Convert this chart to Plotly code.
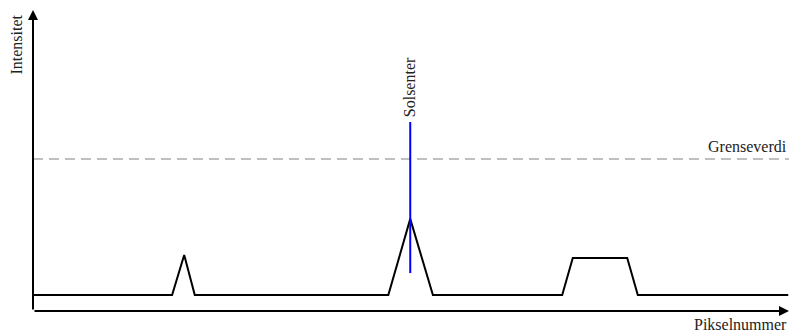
import plotly.graph_objects as go

# Signal (pixel number vs intensity)
pixel = [0, 18.4, 20.0, 21.4, 47.0, 49.9, 52.9, 70.0, 71.4, 78.6, 80.0, 99.9]
intensity = [0.53, 0.53, 1.86, 0.53, 0.53, 3.06, 0.53, 0.53, 1.76, 1.76, 0.53, 0.53]

threshold = 5.05
sun_center = 49.9
sun_line = [1.26, 6.28]

X_MAX = 100
Y_MAX = 10

FONT = "Liberation Serif"
FS = 16

fig = go.Figure()
fig.add_trace(go.Scatter(x=pixel, y=intensity, mode="lines",
                         line=dict(color="black", width=2), hoverinfo="skip",
                         showlegend=False))

# threshold
fig.add_shape(type="line", x0=0, x1=X_MAX, y0=threshold, y1=threshold,
              xref="x", yref="y", line=dict(color="#c0c0c0", width=2, dash="10px,6px"))
# sun center
fig.add_shape(type="line", x0=sun_center, x1=sun_center, y0=sun_line[0], y1=sun_line[1],
              xref="x", yref="y", line=dict(color="#0000ff", width=2))

# axes with arrows
fig.add_annotation(x=X_MAX, y=0, ax=0, ay=0, xref="x", yref="y", axref="x", ayref="y",
                   showarrow=True, arrowhead=2, arrowsize=1, arrowwidth=2,
                   arrowcolor="black", text="")
fig.add_annotation(x=0, y=Y_MAX, ax=0, ay=0, xref="x", yref="y", axref="x", ayref="y",
                   showarrow=True, arrowhead=2, arrowsize=1, arrowwidth=2,
                   arrowcolor="black", text="")

fig.add_annotation(x=sun_center, y=sun_line[1], xref="x", yref="y", text="Solsenter",
                   textangle=-90, showarrow=False, yanchor="bottom", xanchor="center",
                   yshift=3, font=dict(family=FONT, size=FS, color="#222"))
fig.add_annotation(x=X_MAX, y=threshold, xref="x", yref="y", text="Grenseverdi",
                   showarrow=False, xanchor="right", yanchor="bottom", yshift=2,
                   font=dict(family=FONT, size=FS, color="#222"))
fig.add_annotation(x=X_MAX, y=0, xref="x", yref="y", text="Pikselnummer",
                   showarrow=False, xanchor="right", yanchor="top", yshift=-3,
                   font=dict(family=FONT, size=FS, color="#222"))
fig.add_annotation(x=0, y=Y_MAX, xref="x", yref="y", text="Intensitet",
                   textangle=-90, showarrow=False, xanchor="right", yanchor="top",
                   xshift=-7, yshift=-3, font=dict(family=FONT, size=FS, color="#222"))

fig.update_xaxes(range=[0, X_MAX], visible=False, fixedrange=True)
fig.update_yaxes(range=[0, Y_MAX], visible=False, fixedrange=True)
# page body adds an 8px offset; margins compensate so the plot area sits where the reference has it
fig.update_layout(width=804, height=336, margin=dict(l=25, r=23, t=2, b=33),
                  plot_bgcolor="white", paper_bgcolor="white")

fig.write_html("out.html")
